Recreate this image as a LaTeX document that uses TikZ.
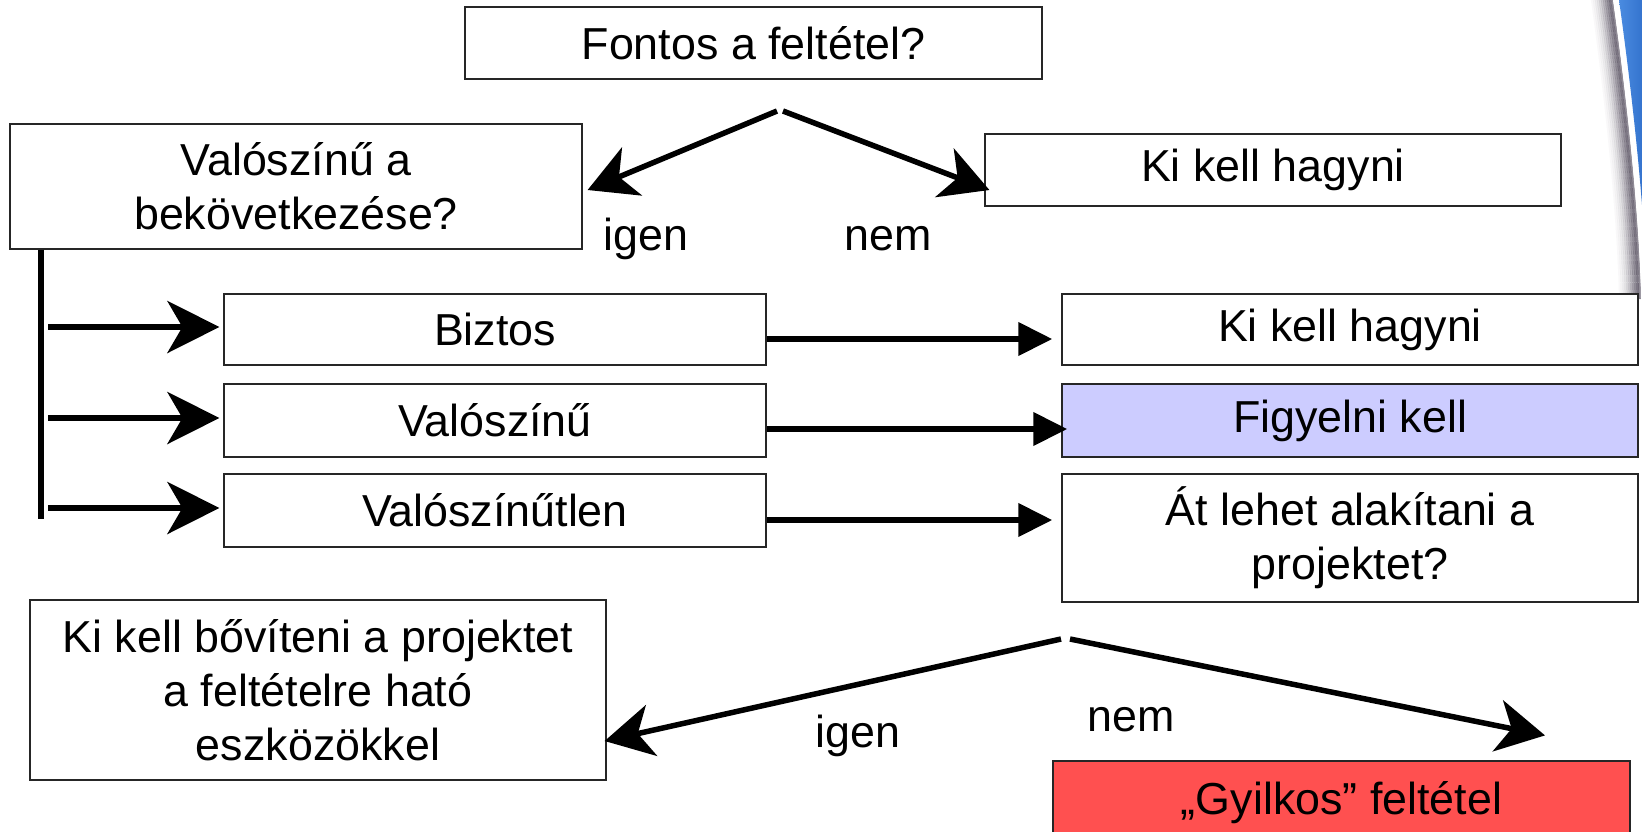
\documentclass[tikz,border=0pt]{standalone}
\usepackage{fontspec}
\setmainfont{Liberation Sans}
\usetikzlibrary{arrows.meta,calc}
\newcommand\figfont{\fontsize{22.4pt}{27pt}\selectfont}
\definecolor{lav}{HTML}{CCCCFF}
\definecolor{redbox}{HTML}{FF5050}
\definecolor{blueA}{HTML}{4A8BE0}
\definecolor{blueB}{HTML}{2462C0}
\definecolor{shadowc}{RGB}{70,62,80}
\begin{document}
\begin{tikzpicture}[x=0.5pt,y=-0.5pt,
  box/.style={draw=black!85, line width=0.6pt, fill=white, inner sep=0pt, align=center, font=\figfont},
  lbl/.style={inner sep=0pt, font=\figfont},
  bigarrow/.style={line width=2.75pt, -{Stealth[length=24pt,width=26pt,inset=7pt]}},
  brarrow/.style={line width=3pt, -{Stealth[length=26pt,width=26pt,inset=7.5pt]}},
  midarrow/.style={line width=3.4pt, -{Triangle[length=17pt,width=16pt]}}]
\useasboundingbox (0,0) rectangle (1642,831);
\clip (0,0) rectangle (1642,831);
\fill[white] (0,0) rectangle (1642,831);

% decoration top right: shadow, white edge, blue sheet
\foreach \d/\o in {22/0.03,20/0.06,18/0.1,16/0.15,14/0.22,12/0.3,10/0.4,8/0.5,6/0.6,4/0.7,2/0.6}{
  \draw[shadowc, opacity=\o, line width=1.1pt]
    plot[domain=0:299, samples=40] ({1642-28*(1-\x/300)^1.5-\d}, \x);
}
\shade[left color=blueA, right color=blueB]
  (1660,0) -- plot[domain=0:299, samples=40] ({1647-28*(1-\x/300)^1.5}, \x) -- (1660,299) -- cycle;
\draw[white, line width=2pt]
  plot[domain=0:299, samples=40] ({1643-28*(1-\x/300)^1.5}, \x);

% nodes
\node[box, minimum width=288.5pt, minimum height=36pt] (A) at (753.5,43) {Fontos a feltétel?};
\node[box, minimum width=286pt, minimum height=62.5pt] (B) at (296,186.5) {Valószínű a\\bekövetkezése?};
\node[box, minimum width=288pt, minimum height=36pt] (C) at (1273,170) {Ki kell hagyni};
\node[box, minimum width=271pt, minimum height=35.5pt] (D) at (495,329.5) {Biztos};
\node[box, minimum width=271pt, minimum height=36.5pt] (E) at (495,420.5) {Valószínű};
\node[box, minimum width=271pt, minimum height=36.5pt] (F) at (495,510.5) {Valószínűtlen};
\node[box, minimum width=288pt, minimum height=35.5pt] (G) at (1350,329.5) {Ki kell hagyni};
\node[box, fill=lav, minimum width=288pt, minimum height=36.5pt] (H) at (1350,420.5) {Figyelni kell};
\node[box, minimum width=288pt, minimum height=64pt] (I) at (1350,538) {Át lehet alakítani a\\projektet?};
\node[box, minimum width=288pt, minimum height=90pt] (J) at (318,690) {Ki kell bővíteni a projektet\\a feltételre ható\\eszközökkel};
\node[box, fill=redbox, minimum width=288.5pt, minimum height=42pt] (K) at (1341.5,803) {„Gyilkos” feltétel};

% labels
\node[lbl] (l1) at (646,239) {igen};
\node[lbl] (l2) at (888,239) {nem};
\node[lbl] (l3) at (858,736) {igen};
\node[lbl] (l4) at (1131,720) {nem};

% top split
\coordinate (t1) at (777,111);
\coordinate (t2) at (783,111);
\draw[bigarrow] (t1) -- ($(B.east)+(5,3.5)$);
\draw[bigarrow] (t2) -- ($(C.west)+(5,20)$);

% branch
\coordinate (v1) at ($(B.south west)+(32,0)$);
\coordinate (v2) at ($(v1)+(0,269)$);
\draw[line width=3pt] (v1) -- (v2);
\draw[brarrow] ($(D.west)+(-175,-2.5)$) -- ($(D.west)+(-4,-2.5)$);
\draw[brarrow] ($(E.west)+(-175,-2.5)$) -- ($(E.west)+(-4,-2.5)$);
\draw[brarrow] ($(F.west)+(-175,-2.5)$) -- ($(F.west)+(-4,-2.5)$);

% middle arrows
\draw[midarrow] ($(D.east)+(0,9.5)$) -- ($(G.west)+(-9,9.5)$);
\draw[midarrow] ($(E.east)+(0,8.5)$) -- ($(H.west)+(6,8.5)$);
\draw[midarrow] ($(F.east)+(0,9.5)$) -- ($(I.west)+(-9,-18)$);

% bottom split
\coordinate (b1) at (1061,639);
\coordinate (b2) at (1070,639);
\draw[bigarrow] (b1) -- ($(J.east)+(-2,51)$);
\draw[bigarrow] (b2) -- ($(K.north)+(203.5,-25)$);
\end{tikzpicture}
\end{document}
